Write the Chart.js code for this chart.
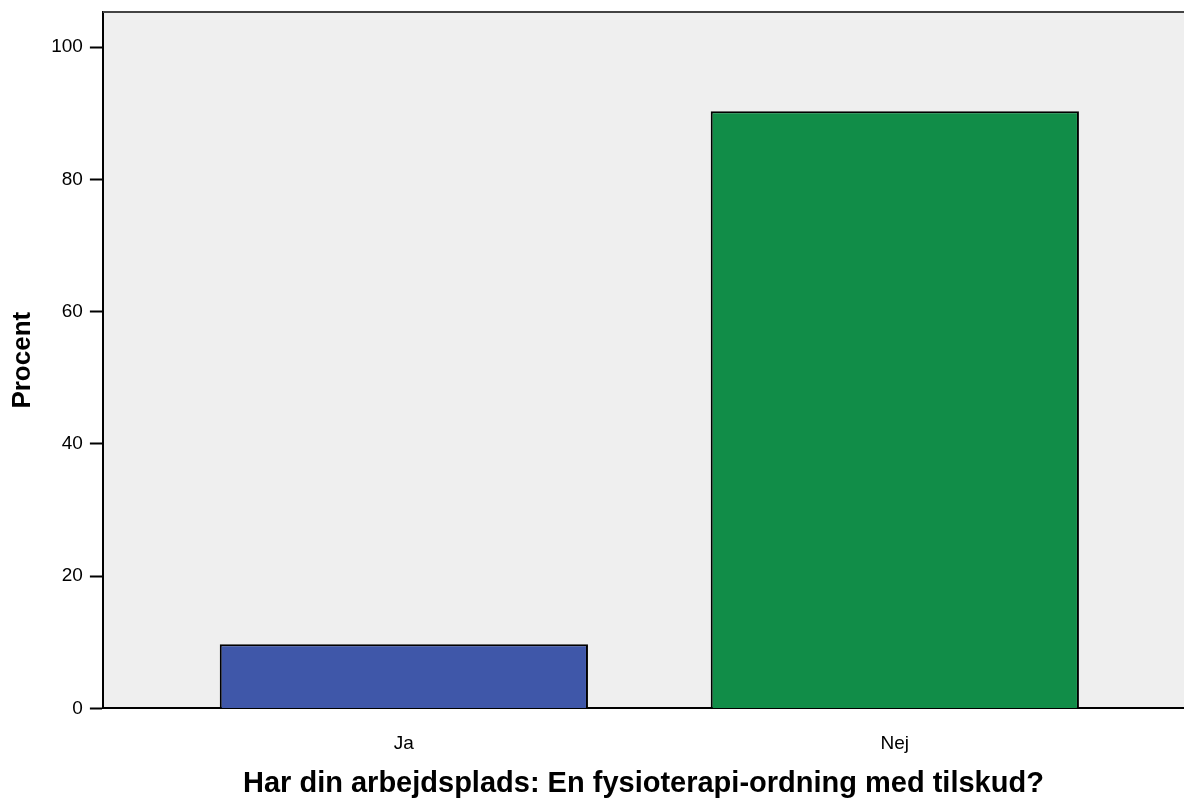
<!DOCTYPE html>
<html>
<head>
<meta charset="utf-8">
<script src="https://cdn.jsdelivr.net/npm/chart.js@4.4.0/dist/chart.umd.min.js"></script>
<style>
  html, body { margin: 0; padding: 0; background: #fff; }
  #wrap { width: 1184px; height: 798px; position: relative; }
</style>
</head>
<body>
<div id="wrap"><canvas id="chart"></canvas></div>
<script>
// data
const categories = ["Ja", "Nej"]
const percentValues = [9.7, 90.3]
const barColors = ["#3f57a9", "#118d48"]
const yTicks = [0, 20, 40, 60, 80, 100]

const xTitle = "Har din arbejdsplads: En fysioterapi-ordning med tilskud?"
const yTitle = "Procent"

const fontFamily = "Liberation Sans, Arial, sans-serif"

// plot background + top frame line
const plotFrame = {
  id: "plotFrame",
  beforeDraw(chart) {
    const { ctx, chartArea } = chart
    ctx.save()
    ctx.fillStyle = "#efefef"
    ctx.fillRect(chartArea.left, chartArea.top, chartArea.right - chartArea.left, chartArea.bottom - chartArea.top)
    ctx.restore()
  },
  afterDraw(chart) {
    const { ctx, chartArea } = chart
    ctx.save()
    ctx.strokeStyle = "#444"
    ctx.lineWidth = 2
    ctx.beginPath()
    ctx.moveTo(chartArea.left, chartArea.top)
    ctx.lineTo(chartArea.right, chartArea.top)
    ctx.stroke()
    ctx.restore()
  },
}

const ctx = document.getElementById("chart").getContext("2d")
new Chart(ctx, {
  type: "bar",
  data: {
    datasets: [
      {
        data: categories.map((c, i) => ({ x: i + 1, y: percentValues[i] })),
        backgroundColor: barColors,
        borderColor: "#000",
        borderWidth: 2,
        categoryPercentage: 1,
        barPercentage: 0.75,
      },
    ],
  },
  options: {
    responsive: true,
    maintainAspectRatio: false,
    animation: false,
    layout: { padding: { top: 12, right: 0, left: 1, bottom: 0 } },
    plugins: {
      legend: { display: false },
      tooltip: { enabled: false },
    },
    scales: {
      x: {
        type: "linear",
        offset: false,
        min: 0.387,
        max: 2.589,
        afterBuildTicks: axis => {
          axis.ticks = categories.map((c, i) => ({ value: i + 1 }))
        },
        ticks: {
          color: "#000",
          font: { family: fontFamily, size: 19 },
          padding: 24,
          maxRotation: 0,
          callback: v => categories[v - 1],
        },
        grid: { display: false, drawTicks: false, offset: false },
        border: { display: true, color: "#000", width: 2 },
        title: {
          display: true,
          text: xTitle,
          color: "#000",
          font: { family: fontFamily, size: 29, weight: "bold" },
          // ticks.padding is counted twice in the scale height, take it back here
          padding: { top: -13, bottom: -3 },
        },
      },
      y: {
        min: 0,
        max: 105.3,
        afterBuildTicks: axis => {
          axis.ticks = yTicks.map(v => ({ value: v }))
        },
        // 100 sits well below the top, no room needed for its label
        afterFit: axis => {
          axis.paddingTop = 0
        },
        ticks: {
          color: "#000",
          font: { family: fontFamily, size: 19 },
          padding: 7,
        },
        grid: {
          drawOnChartArea: false,
          drawTicks: true,
          tickLength: 13,
          tickWidth: 2,
          tickColor: "#000",
        },
        border: { display: true, color: "#000", width: 2 },
        title: {
          display: true,
          text: yTitle,
          color: "#000",
          font: { family: fontFamily, size: 26, weight: "bold" },
          padding: { top: 6, bottom: 6 },
        },
      },
    },
  },
  plugins: [plotFrame],
})
</script>
</body>
</html>
